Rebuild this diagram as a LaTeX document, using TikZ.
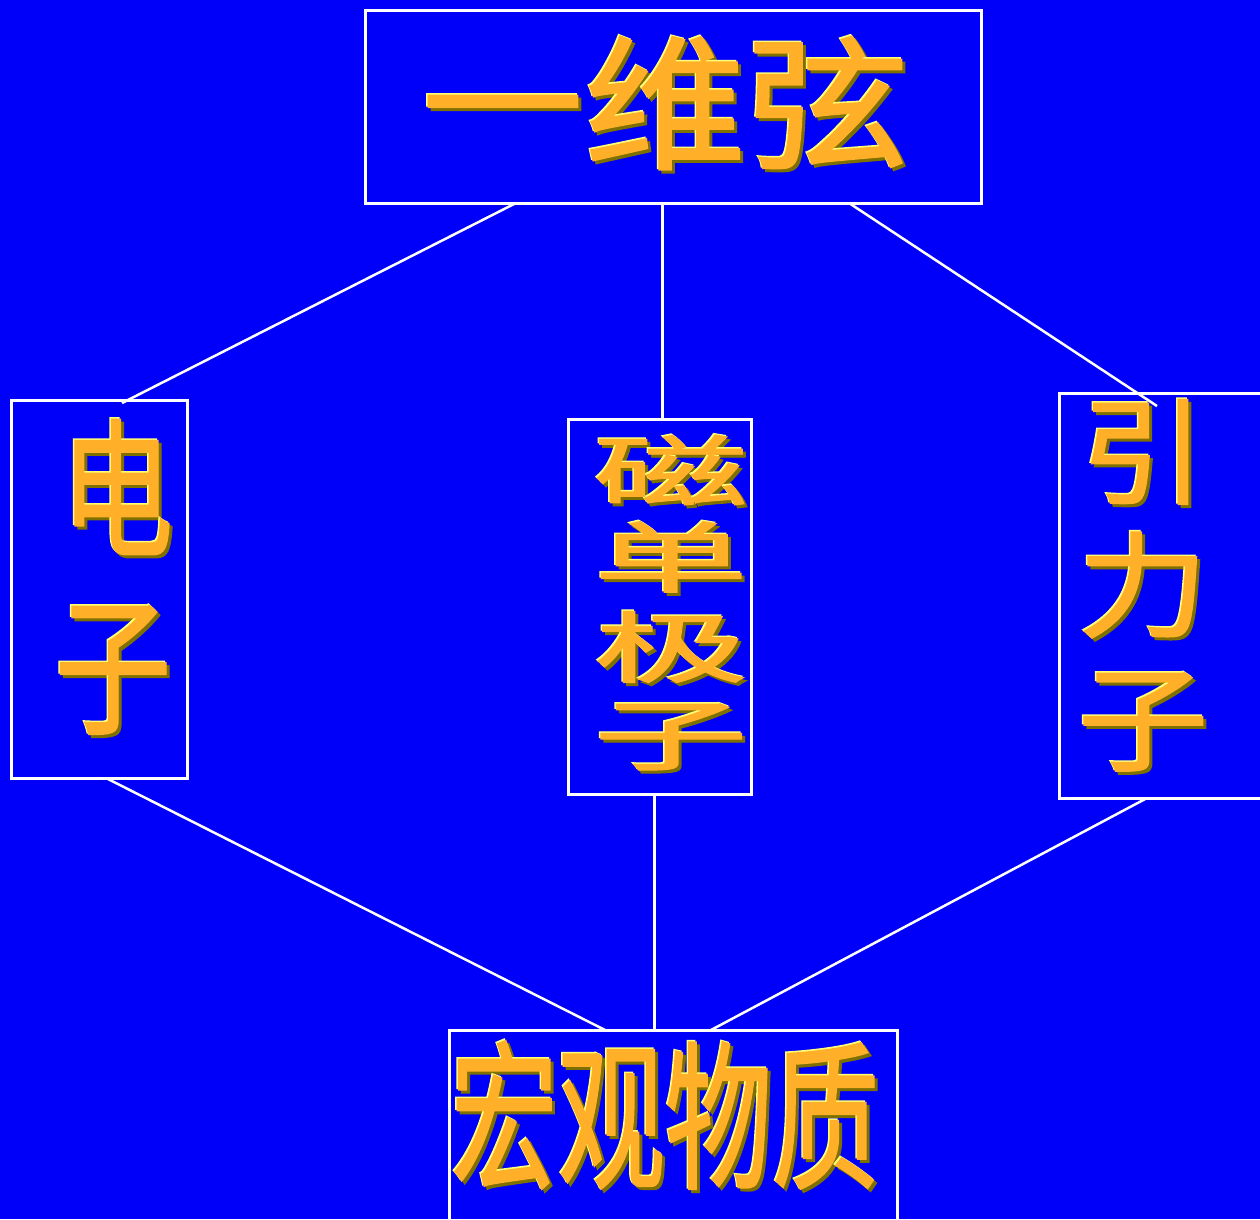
\documentclass[tikz,border=0pt]{standalone}
\usepackage{fontspec}
\newfontfamily\cjk{Noto Sans CJK SC}[FakeBold=1.2]
\usetikzlibrary{calc}
\definecolor{bg}{RGB}{0,0,250}
\definecolor{goldmain}{RGB}{255,176,40}
\definecolor{goldhi}{RGB}{255,255,120}
\definecolor{goldsh}{RGB}{125,112,0}
\tikzset{
  frame/.style={draw=white, line width=3pt, fill=none, inner sep=0pt},
  solidlink/.style={draw=white, line width=3pt},
  thinlink/.style={draw=white, line width=2.5pt},
  glyph/.style={inner sep=0pt, font=\cjk},
}
% name, x, y, size, xscale, yscale, text
\newcommand{\gold}[7]{%
  \node[glyph, text=goldsh] (#1-s) at ({#2+3},{#3+3}) {\fontsize{#4}{#4}\selectfont\scalebox{#5}[#6]{#7}};
  \node[glyph, text=goldhi] (#1-h) at ({#2-1.5},{#3-1.5}) {\fontsize{#4}{#4}\selectfont\scalebox{#5}[#6]{#7}};
  \node[glyph, text=goldmain] (#1) at (#2,#3) {\fontsize{#4}{#4}\selectfont\scalebox{#5}[#6]{#7}};
}
\begin{document}
\begin{tikzpicture}[x=1pt, y=-1pt]
\fill[bg] (0,0) rectangle (1260,1219);
\useasboundingbox (0,0) rectangle (1260,1219);

% boxes
\node[frame, minimum width=616pt, minimum height=193pt] (top) at (673,106.5) {};
\node[frame, minimum width=176pt, minimum height=378pt] (left) at (99,589) {};
\node[frame, minimum width=183pt, minimum height=375pt] (mid) at (659.5,606.5) {};
\node[frame, minimum width=206pt, minimum height=405pt] (right) at (1162,595.5) {};
\node[frame, minimum width=448pt, minimum height=192pt] (bot) at (673,1126) {};

% connector end points on the box edges
\coordinate (topL) at (516,203);
\coordinate (topM) at (662,203);
\coordinate (topR) at (849,203);
\coordinate (leftT) at (122,403);
\coordinate (leftB) at (108,779);
\coordinate (midT) at (662,419);
\coordinate (midB) at (654,794);
\coordinate (rightT) at (1157,406);
\coordinate (rightB) at (1147,798);
\coordinate (botL) at (605,1030);
\coordinate (botM) at (654,1030);
\coordinate (botR) at (711,1030);

\draw[solidlink] (topM) -- (midT);
\draw[solidlink] (midB) -- (botM);
\draw[thinlink] (topL) -- (leftT);
\draw[thinlink] (topR) -- (rightT);
\draw[thinlink] (leftB) -- (botL);
\draw[thinlink] (rightB) -- (botR);

% texts
\gold{ttop}{665}{103}{145}{1.12}{1}{一维弦}
\gold{tbot}{665}{1115}{160}{0.67}{1}{宏观物质}

\gold{tl1}{117}{487}{150}{0.75}{1}{电}
\gold{tl2}{113}{670}{150}{0.78}{1}{子}

\gold{tm1}{671}{470}{155}{1}{0.5}{磁}
\gold{tm2}{671}{557}{155}{1}{0.5}{单}
\gold{tm3}{671}{647}{155}{1}{0.5}{极}
\gold{tm4}{671}{737}{155}{1}{0.5}{子}

\gold{tr1}{1143}{452}{125}{1.0}{0.92}{引}
\gold{tr2}{1143}{585}{125}{1.05}{0.92}{力}
\gold{tr3}{1143}{722}{125}{1.05}{0.92}{子}
\end{tikzpicture}
\end{document}
